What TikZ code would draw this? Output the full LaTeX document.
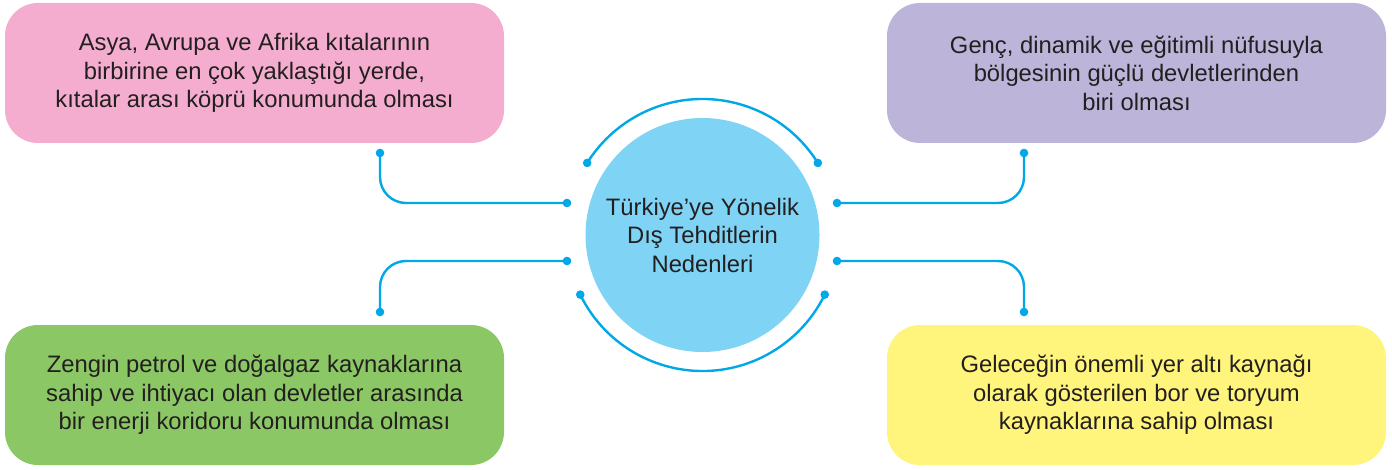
\documentclass[tikz,border=0pt]{standalone}
\usepackage{fontspec}
\setmainfont{Liberation Sans}
\definecolor{pinkbox}{HTML}{F4ADCE}
\definecolor{purplebox}{HTML}{BCB5D9}
\definecolor{greenbox}{HTML}{8BC764}
\definecolor{yellowbox}{HTML}{FFF57C}
\definecolor{circfill}{HTML}{7FD3F5}
\definecolor{linkblue}{HTML}{00A8E8}
\definecolor{txt}{HTML}{231F20}
\begin{document}
\begin{tikzpicture}[x=1pt,y=1pt,
  infobox/.style={rounded corners=33pt, minimum width=499pt, minimum height=140pt,
    align=center, text=txt, inner sep=0pt, font=\fontsize{23.8}{28.5}\selectfont},
  link/.style={draw=linkblue, line width=2.4pt, rounded corners=26pt},
  arcline/.style={draw=linkblue, line width=2.4pt},
  dotmark/.style={fill=linkblue}]
\useasboundingbox (0,0) rectangle (1392,469);

\node[infobox, fill=pinkbox] (pink) at (254.5,396)
  {Asya, Avrupa ve Afrika kıtalarının\\birbirine en çok yaklaştığı yerde,\\kıtalar arası köprü konumunda olması};
\node[infobox, fill=purplebox] (purple) at (1136.5,396)
  {Genç, dinamik ve eğitimli nüfusuyla\\bölgesinin güçlü devletlerinden\\biri olması};
\node[infobox, fill=greenbox] (green) at (254.5,74)
  {Zengin petrol ve doğalgaz kaynaklarına\\sahip ve ihtiyacı olan devletler arasında\\bir enerji koridoru konumunda olması};
\node[infobox, fill=yellowbox] (yellow) at (1136.5,74)
  {Geleceğin önemli yer altı kaynağı\\olarak gösterilen bor ve toryum\\kaynaklarına sahip olması};

\node[circle, fill=circfill, minimum size=234pt, inner sep=0pt, align=center, text=txt,
  font=\fontsize{23.8}{28.5}\selectfont] (center) at (702.5,234)
  {Türkiye’ye Yönelik\\Dış Tehditlerin\\Nedenleri};

% arcs around the circle
\path[arcline] (center.center) ++(32:136) coordinate (ta) arc[start angle=32, end angle=148, radius=136] coordinate (tb);
\path[arcline] (center.center) ++(206:136) coordinate (ba) arc[start angle=206, end angle=334, radius=136] coordinate (bb);
\foreach \p in {ta,tb,ba,bb} \fill[dotmark] (\p) circle (4.3pt);

% connector end points
\coordinate (lu1) at (380,316);
\coordinate (lu2) at (567,266);
\coordinate (ll1) at (380,157);
\coordinate (ll2) at (567,208);
\coordinate (ru1) at (1024,316);
\coordinate (ru2) at (837,266);
\coordinate (rl1) at (1024,157);
\coordinate (rl2) at (837,208);

\draw[link] (lu1) |- (lu2);
\draw[link] (ll2) -| (ll1);
\draw[link] (ru2) -| (ru1);
\draw[link] (rl2) -| (rl1);
\foreach \p in {lu1,lu2,ll1,ll2,ru1,ru2,rl1,rl2} \fill[dotmark] (\p) circle (4.3pt);
\end{tikzpicture}
\end{document}
